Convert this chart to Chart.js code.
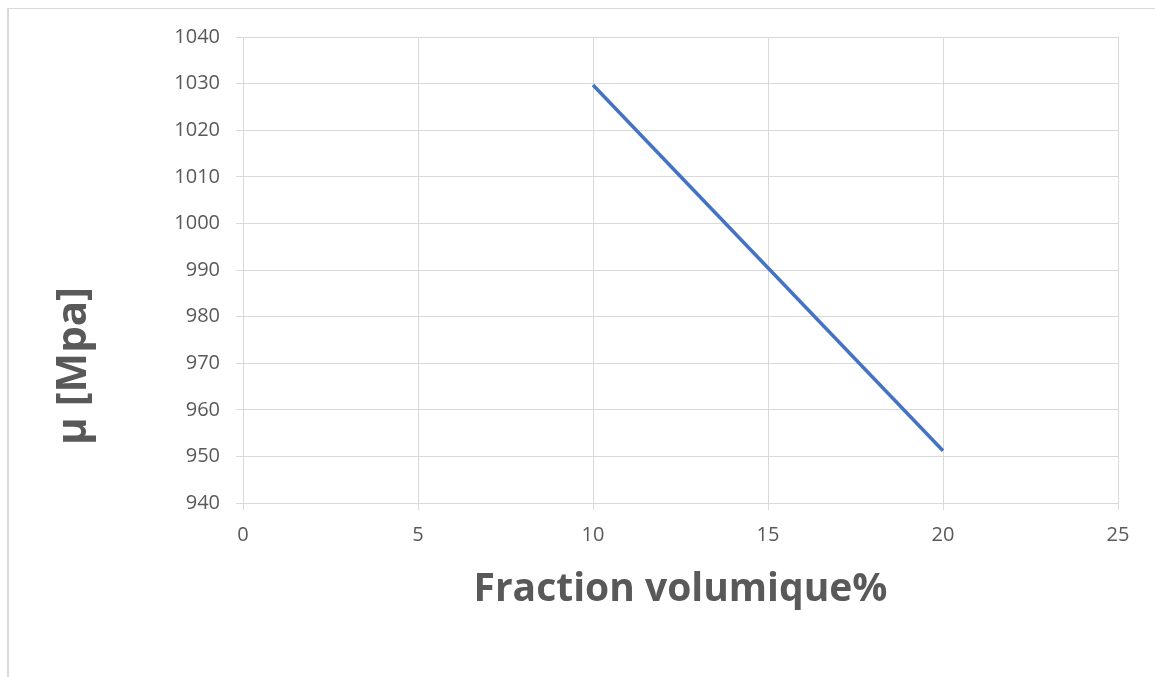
<!DOCTYPE html>
<html>
<head>
<meta charset="utf-8">
<script src="https://cdn.jsdelivr.net/npm/chart.js@4.4.1/dist/chart.umd.min.js"></script>
<style>
  html, body { margin: 0; padding: 0; background: #ffffff; }
  body { width: 1155px; height: 677px; overflow: hidden; position: relative; }
  #frame {
    position: absolute; left: 7px; top: 8px; width: 1300px; height: 800px;
    border-left: 2px solid #d9d9d9; border-top: 1px solid #d9d9d9;
  }
  #wrap { position: absolute; left: 0; top: 0; width: 1155px; height: 677px; }
</style>
</head>
<body>
<div id="frame"></div>
<div id="wrap"><canvas id="chart" width="1155" height="677"></canvas></div>
<script>
// Volume fraction (%) and modulus µ (MPa)
const fractionVolumique = [10, 20];
const moduleMu = [1029.7, 951.2];

// Axis tick values
const xTickValues = [0, 5, 10, 15, 20, 25];
const yTickValues = [940, 950, 960, 970, 980, 990, 1000, 1010, 1020, 1030, 1040];

// Axis titles
const xTitleText = 'Fraction volumique%';
const yTitleText = 'µ [Mpa]';

const FONT = '"Open Sans", "DejaVu Sans", sans-serif';
const GRID = '#d9d9d9';
const TEXT = '#595959';

// Draws the vertical axis title, placed lower than the plot centre
const yTitlePlugin = {
  id: 'yTitlePlugin',
  afterDraw(chart) {
    const t = chart.options.scales.y.title;
    const ctx = chart.ctx;
    ctx.save();
    ctx.translate(74, 366);
    ctx.rotate(-Math.PI / 2);
    ctx.fillStyle = TEXT;
    ctx.font = 'bold 42px ' + FONT;
    ctx.textAlign = 'center';
    ctx.textBaseline = 'middle';
    ctx.fillText(t.text, 0, 0);
    ctx.restore();
  }
};

const points = fractionVolumique.map((x, i) => ({ x: x, y: moduleMu[i] }));

new Chart(document.getElementById('chart'), {
  type: 'scatter',
  data: {
    datasets: [{
      label: 'µ',
      data: points,
      showLine: true,
      borderColor: '#4472C4',
      backgroundColor: '#4472C4',
      borderWidth: 3.5,
      pointRadius: 0,
      pointHoverRadius: 0,
      tension: 0
    }]
  },
  options: {
    responsive: false,
    animation: false,
    devicePixelRatio: 1,
    layout: { padding: { top: 37, right: 37, left: 0, bottom: 0 } },
    plugins: {
      legend: { display: false },
      tooltip: { enabled: false }
    },
    scales: {
      x: {
        type: 'linear',
        min: 0,
        max: 25,
        afterBuildTicks: s => { s.ticks = xTickValues.map(v => ({ value: v })); },
        afterFit: s => { s.height = 174; },
        grid: { color: GRID, lineWidth: 1, tickLength: 7, drawTicks: true },
        border: { color: GRID, width: 1 },
        ticks: {
          color: TEXT,
          padding: 13,
          maxRotation: 0,
          font: { family: FONT, size: 20 },
          callback: v => String(v)
        },
        title: {
          display: true,
          text: xTitleText,
          color: TEXT,
          font: { family: FONT, size: 39, weight: 'bold' },
          padding: { top: 0, bottom: 64 }
        }
      },
      y: {
        type: 'linear',
        min: 940,
        max: 1040,
        afterBuildTicks: s => { s.ticks = yTickValues.map(v => ({ value: v })); },
        afterFit: s => { s.width = 243; },
        grid: { color: GRID, lineWidth: 1, tickLength: 7, drawTicks: true },
        border: { color: GRID, width: 1 },
        ticks: {
          color: TEXT,
          padding: 16,
          font: { family: FONT, size: 20 },
          callback: v => String(v)
        },
        title: { display: false, text: yTitleText }
      }
    }
  },
  plugins: [yTitlePlugin]
});
</script>
</body>
</html>
